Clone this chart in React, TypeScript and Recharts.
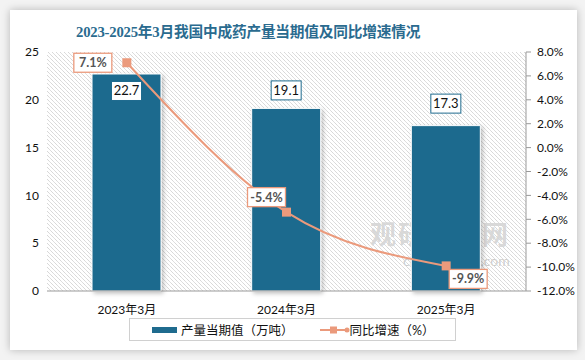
import React from "react";
import {
  ComposedChart,
  Bar,
  Line,
  XAxis,
  YAxis,
  CartesianGrid,
  LabelList,
} from "recharts";

const categories = ["2023年3月", "2024年3月", "2025年3月"];
const output = [22.7, 19.1, 17.3];
const growth = [7.1, -5.4, -9.9];
const leftTicks = [0, 5, 10, 15, 20, 25];
const rightTicks = [-12, -10, -8, -6, -4, -2, 0, 2, 4, 6, 8];

const data = categories.map((c, i) => ({ name: c, output: output[i], growth: growth[i] }));

const BAR = "#1f6b8e";
const LINE = "#eb9a7c";
const FONT = "Lato, 'Noto Sans CJK SC', sans-serif";

// label offsets (relative to point) - placed by hand like the original
const barLabelDy = [17, -18, -22];
const lineLabelOff = [
  [-34, 0],
  [-20, -15],
  [22, 13],
];

const BarLabel = (props: any) => {
  const { x, y, width, index, value } = props;
  const cx = x + width / 2;
  const cy = y + barLabelDy[index];
  const w = 30;
  const h = 19;
  return (
    <g>
      <rect x={cx - w / 2} y={cy - h / 2} width={w} height={h} fill="#fff" stroke={BAR} strokeWidth={1} />
      <text x={cx} y={cy + 4.5} textAnchor="middle" fontSize={13} fill="#111" fontFamily={FONT}>
        {value}
      </text>
    </g>
  );
};

const LineLabel = (props: any) => {
  const { x, y, index, value } = props;
  const cx = x + lineLabelOff[index][0];
  const cy = y + lineLabelOff[index][1];
  const w = 38;
  const h = 19;
  return (
    <g>
      <rect x={cx - w / 2} y={cy - h / 2} width={w} height={h} fill="#fff" stroke={LINE} strokeWidth={1.3} />
      <text x={cx} y={cy + 4.5} textAnchor="middle" fontSize={12.5} fontWeight="bold" fill="#555" fontFamily={FONT}>
        {value.toFixed(1)}%
      </text>
    </g>
  );
};

const SquareDot = (props: any) => {
  const { cx, cy } = props;
  return <rect x={cx - 4.5} y={cy - 4.5} width={9} height={9} fill={LINE} />;
};

export default function App() {
  return (
    <div
      style={{
        position: "absolute",
        left: 0,
        top: 0,
        width: 585,
        height: 360,
        background: "#f3f3f3",
        overflow: "hidden",
      }}
    >
      <div
        style={{
          position: "absolute",
          left: 10,
          top: 10,
          width: 567,
          height: 340,
          background: "#fff",
          boxShadow: "0 0 8px rgba(0,0,0,0.25)",
        }}
      />
      <div
        style={{
          position: "absolute",
          left: 76,
          top: 20,
          fontFamily: "'Liberation Serif', 'Noto Sans CJK SC', serif",
          fontWeight: "bold",
          fontSize: 14.7,
          color: "#2a6b8f",
          whiteSpace: "nowrap",
          letterSpacing: -0.2,
        }}
      >
        2023-2025年3月我国中成药产量当期值及同比增速情况
      </div>
      <div
        style={{
          position: "absolute",
          left: 370,
          top: 219,
          fontFamily: "'Noto Sans CJK SC', sans-serif",
          fontWeight: "bold",
          fontSize: 26,
          lineHeight: "28px",
          color: "rgba(120,120,120,0.3)",
          letterSpacing: 2,
          whiteSpace: "nowrap",
        }}
      >
        观研报告网
      </div>
      <div
        style={{
          position: "absolute",
          left: 403,
          top: 253,
          fontFamily: FONT,
          fontSize: 14,
          lineHeight: "15px",
          color: "rgba(120,120,120,0.4)",
          whiteSpace: "nowrap",
        }}
      >
        chinabaogao.com
      </div>
      <div style={{ position: "absolute", left: 0, top: 0 }}>
        <ComposedChart
          width={585}
          height={360}
          data={data}
          margin={{ top: 52, right: 9, left: 17, bottom: 39 }}
        >
          <defs>
            <pattern id="hatch" patternUnits="userSpaceOnUse" width={4} height={4}>
              <path d="M-1,-1 l2,2 M0,0 l4,4 M3,3 l2,2" stroke="#d6d6d6" strokeWidth={0.8} />
            </pattern>
            <filter id="barShadow" x="-10%" y="-10%" width="130%" height="130%">
              <feDropShadow dx={2} dy={2} stdDeviation={2} floodColor="#000" floodOpacity={0.25} />
            </filter>
          </defs>
          <CartesianGrid fill="url(#hatch)" stroke="none" horizontal={false} vertical={false} />
          <XAxis
            dataKey="name"
            tickLine={false}
            axisLine={{ stroke: "#999" }}
            tick={{ fill: "#111", fontSize: 12, fontFamily: FONT }}
            tickMargin={8}
            height={30}
          />
          <YAxis
            yAxisId="left"
            domain={[0, 25]}
            ticks={leftTicks}
            axisLine={false}
            tickLine={false}
            width={30}
            tick={{ fill: "#111", fontSize: 12, fontFamily: FONT }}
            tickMargin={2}
          />
          <YAxis
            yAxisId="right"
            orientation="right"
            domain={[-12, 8]}
            ticks={rightTicks}
            axisLine={{ stroke: "#999" }}
            tickLine={{ stroke: "#999" }}
            tickSize={5}
            tickMargin={6}
            width={50}
            tickFormatter={(v) => `${v.toFixed(1)}%`}
            tick={{ fill: "#111", fontSize: 12, fontFamily: FONT }}
          />
          <Bar
            yAxisId="left"
            dataKey="output"
            fill={BAR}
            stroke="#fff"
            strokeWidth={1}
            barSize={69}
            filter="url(#barShadow)"
            isAnimationActive={false}
          >
            <LabelList dataKey="output" content={<BarLabel />} />
          </Bar>
          <Line
            yAxisId="right"
            dataKey="growth"
            type="monotone"
            stroke={LINE}
            strokeWidth={2}
            dot={<SquareDot />}
            activeDot={false}
            isAnimationActive={false}
          >
            <LabelList dataKey="growth" content={<LineLabel />} />
          </Line>
        </ComposedChart>
      </div>
      <div
        style={{
          position: "absolute",
          left: 129,
          top: 318,
          width: 327,
          height: 23,
          border: "1px solid #d0d0d0",
          boxSizing: "border-box",
          fontFamily: FONT,
          fontSize: 12.5,
          color: "#111",
          display: "flex",
          alignItems: "center",
        }}
      >
        <span style={{ display: "inline-block", marginLeft: 22, width: 25, height: 6, background: BAR }} />
        <span style={{ marginLeft: 4 }}>产量当期值（万吨）</span>
        <svg width={30} height={10} style={{ marginLeft: 26 }}>
          <line x1={0} y1={5} x2={28} y2={5} stroke={LINE} strokeWidth={2} />
          <rect x={10} y={1.5} width={7} height={7} fill={LINE} />
          <circle cx={27} cy={5} r={2.5} fill={LINE} />
        </svg>
        <span>同比增速（%）</span>
      </div>
    </div>
  );
}
